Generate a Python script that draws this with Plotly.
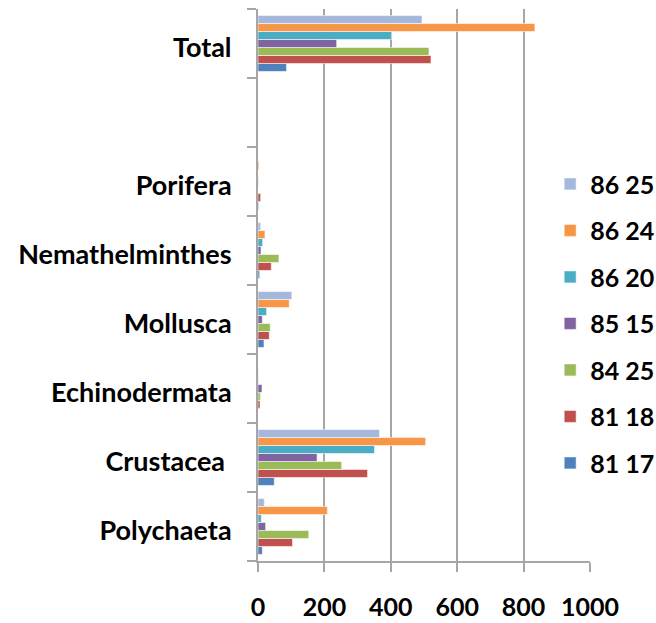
import plotly.graph_objects as go

# Categories, bottom to top (blank slot separates the total)
categories = ["Polychaeta", "Crustacea ", "Echinodermata", "Mollusca",
              "Nemathelminthes", "Porifera", " ", "Total"]

series_names = ["81 17", "81 18", "84 25", "85 15", "86 20", "86 24", "86 25"]

s_81_17 = [13, 49, 0, 18, 5, 2, None, 86]
s_81_18 = [104, 330, 6, 34, 40, 8, None, 521]
s_84_25 = [153, 252, 7, 37, 63, 0, None, 515]
s_85_15 = [23, 178, 12, 13, 9, 1, None, 237]
s_86_20 = [10, 351, 1, 26, 14, 0, None, 402]
s_86_24 = [209, 505, 1, 94, 21, 3, None, 834]
s_86_25 = [19, 366, 0, 102, 8, 0, None, 494]

series_values = [s_81_17, s_81_18, s_84_25, s_85_15, s_86_20, s_86_24, s_86_25]
series_colors = ["#4F81BD", "#C0504D", "#9BBB59", "#8064A2",
                 "#4BACC6", "#F79646", "#A5B8DB"]

x_ticks = [0, 200, 400, 600, 800, 1000]

FONT = "Lato"
TXT = dict(family=FONT, size=25, color="#000000", weight="bold")
CAT_TXT = dict(family=FONT, size=27, color="#000000", weight="bold")

fig = go.Figure()
for i, (name, vals, col) in enumerate(zip(series_names, series_values, series_colors)):
    fig.add_trace(go.Bar(
        y=categories, x=vals, name=name, orientation="h",
        legendgroup=name, legendrank=1000 - i,
        marker=dict(color=col, line=dict(color="rgba(255,255,255,0.55)", width=1)),
    ))

fig.update_layout(
    width=656, height=623,
    margin=dict(l=258, r=66, t=9, b=62, autoexpand=False),
    paper_bgcolor="white", plot_bgcolor="white",
    barmode="group", bargap=0.19, bargroupgap=0,
    font=TXT,
    showlegend=True,
    legend=dict(
        traceorder="grouped", tracegroupgap=11,
        x=0.88, xanchor="left", y=0.43, yanchor="middle",
        bgcolor="white", borderwidth=0,
        font=TXT,
    ),
    xaxis=dict(
        range=[0, 1000], tickvals=x_ticks, ticktext=[str(v) for v in x_ticks],
        showgrid=True, gridcolor="#a6a6a6", gridwidth=2,
        showline=True, linecolor="#a6a6a6", linewidth=2,
        ticks="outside", ticklen=9, tickwidth=2, tickcolor="#a6a6a6",
        ticklabelstandoff=14, zeroline=False, automargin=False,
        tickfont=TXT,
    ),
    yaxis=dict(
        type="category", categoryorder="array", categoryarray=categories,
        tickson="boundaries", showgrid=False,
        showline=True, linecolor="#a6a6a6", linewidth=2,
        ticks="outside", ticklen=9, tickwidth=2, tickcolor="#a6a6a6",
        ticklabelstandoff=19, ticklabelshift=4, automargin=False,
        tickfont=CAT_TXT,
    ),
)

fig.write_html("out.html")
